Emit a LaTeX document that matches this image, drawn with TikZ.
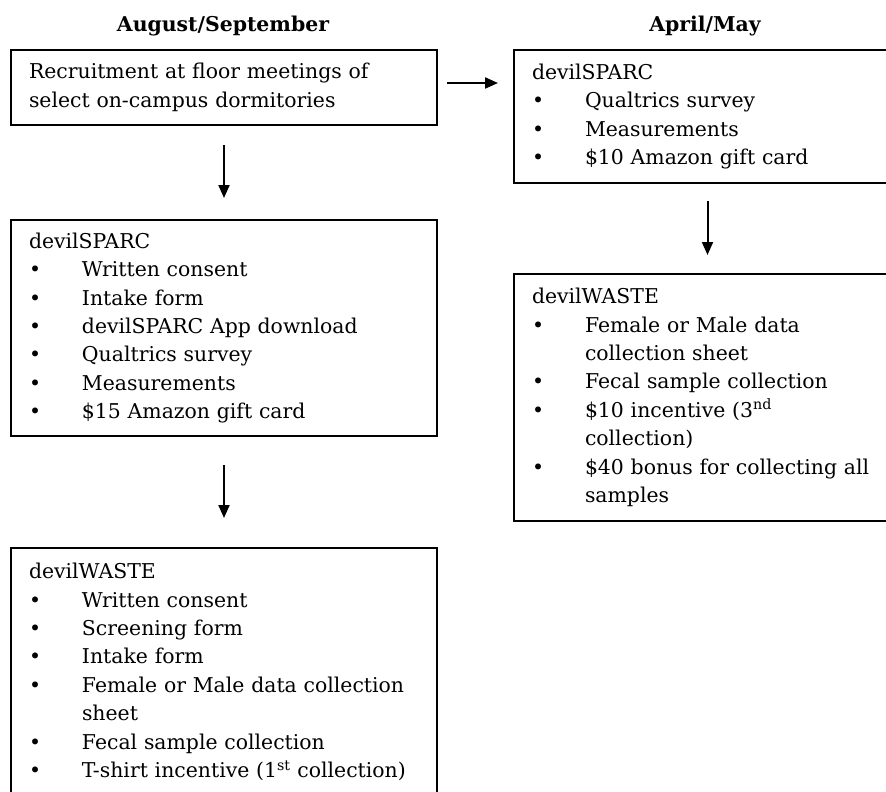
\documentclass[tikz,border=0pt]{standalone}
\usepackage{fontspec}
\setmainfont{DejaVu Serif}
\usetikzlibrary{arrows.meta,positioning,calc}

\newcommand{\bul}{\makebox[53pt][l]{\textbullet}}
\newcommand{\cnt}{\hspace*{53pt}}

\begin{document}
\begin{tikzpicture}[x=1pt, y=-1pt, >={Triangle[length=13pt,width=11pt]},
  stagebox/.style={draw, line width=2pt, anchor=north west, align=left, inner xsep=18pt, inner ysep=0pt, font=\fontsize{20.4}{28.4}\selectfont},
  heading/.style={anchor=base, font=\fontsize{20.4}{24}\selectfont\bfseries},
  flow/.style={->, line width=2pt}]

\useasboundingbox (0,0) rectangle (886,792);
\clip (0,0) rectangle (886,792);

% Headings
\node[heading] (augsep) at (223,32) {August/September};
\node[heading] (aprmay) at (705,32) {April/May};

% August/September
\node[stagebox, text width=390pt, minimum height=75pt] (recruit) at (10,49) {Recruitment at floor meetings of\\select on-campus dormitories};
\node[stagebox, text width=390pt, minimum height=216pt] (sparcA) at (10,219) {devilSPARC\\
  \bul Written consent\\
  \bul Intake form\\
  \bul devilSPARC App download\\
  \bul Qualtrics survey\\
  \bul Measurements\\
  \bul \$15 Amazon gift card};
\node[stagebox, text width=390pt, minimum height=248pt] (wasteA) at (10,547) {devilWASTE\\
  \bul Written consent\\
  \bul Screening form\\
  \bul Intake form\\
  \bul Female or Male data collection\\
  \cnt sheet\\
  \bul Fecal sample collection\\
  \bul T-shirt incentive (1\textsuperscript{st} collection)};

% April/May
\node[stagebox, text width=351pt, minimum height=133pt] (sparcB) at (513,49) {devilSPARC\\
  \bul Qualtrics survey\\
  \bul Measurements\\
  \bul \$10 Amazon gift card};
\node[stagebox, text width=351pt, minimum height=247pt] (wasteB) at (513,273) {devilWASTE\\
  \bul Female or Male data\\
  \cnt collection sheet\\
  \bul Fecal sample collection\\
  \bul \$10 incentive (3\textsuperscript{nd}\\
  \cnt collection)\\
  \bul \$40 bonus for collecting all\\
  \cnt samples};

% Arrows
\draw[flow, shorten <=19pt, shorten >=21pt] (recruit) -- (sparcA);
\draw[flow, shorten <=28pt, shorten >=29pt] (sparcA) -- (wasteA);
\draw[flow, shorten <=9pt, shorten >=15pt] ([yshift=4.5pt]recruit.east) -- ([yshift=4.5pt]recruit.east -| sparcB.west);
\draw[flow, shorten <=17pt, shorten >=18pt] (sparcB) -- (wasteB);

\end{tikzpicture}
\end{document}
